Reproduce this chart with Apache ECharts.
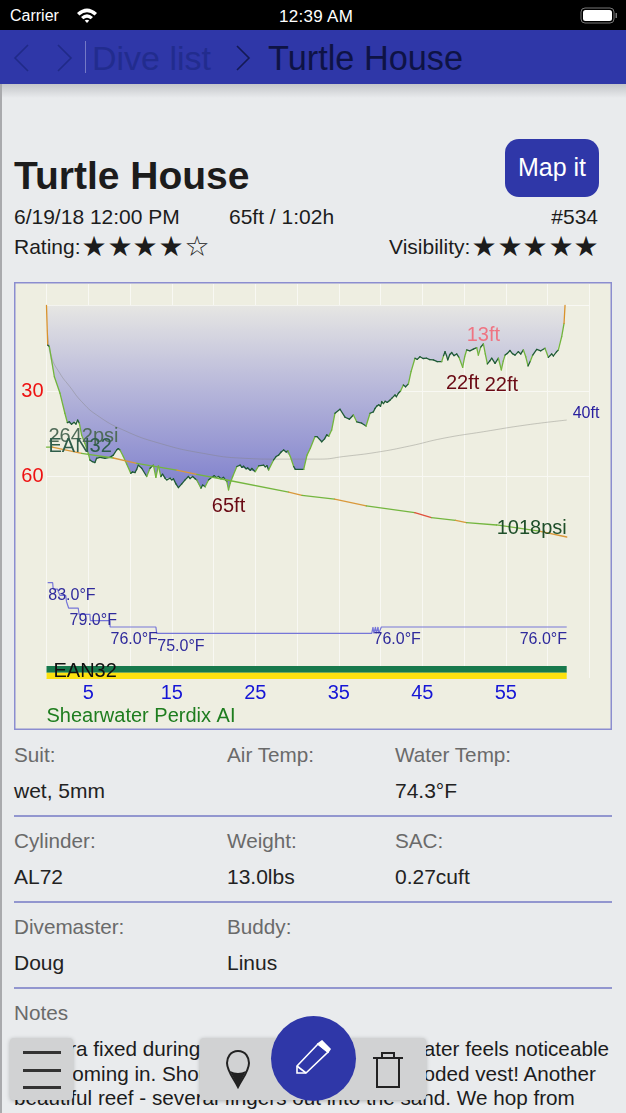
<!DOCTYPE html>
<html>
<head>
<meta charset="utf-8">
<title>Turtle House</title>
<script src="https://cdn.jsdelivr.net/npm/echarts@6/dist/echarts.min.js"></script>
<style>
  html, body { margin: 0; padding: 0; }
  body { width: 626px; height: 1113px; position: relative; overflow: hidden; background: #e9ebed; font-family: "Liberation Sans", sans-serif; color: #1c1c1c; }
  .t { position: absolute; line-height: 1; white-space: nowrap; transform: translateY(-50%); }
  .r { transform: translate(-100%, -50%); }
  .c { transform: translate(-50%, -50%); }
  .lab { font-size: 20.7px; color: #6a6a6a; }
  .val { font-size: 21px; color: #222; }
  .note { font-size: 20.7px; color: #1c1c1c; }
  .rule { position: absolute; left: 14px; width: 598px; height: 1.5px; background: #9296cf; }
  .box { position: absolute; background: #d1d2d3; box-shadow: 0 1px 4px rgba(0,0,0,.25); border-radius: 4px; }
  #panel { position: absolute; left: 14px; top: 282px; width: 598px; height: 448px; background: #eeeee1; box-shadow: inset 0 0 0 1.5px #8b8dd0; }
  #chart { width: 598px; height: 448px; }
  svg { position: absolute; }
</style>
</head>
<body>
<div style="position:absolute;left:0;top:0;width:626px;height:30px;background:#000"></div>
<span class="t" style="left:10px;top:16px;font-size:16px;color:#fff">Carrier</span>
<svg style="left:76px;top:7px" width="22" height="17" viewBox="0 0 22 17"><path d="M1 6 Q11 -3 21 6 L18.6 8.4 Q11 2 3.4 8.4 Z M5 10 Q11 4.5 17 10 L14.7 12.3 Q11 9.2 7.3 12.3 Z M8.7 13.6 Q11 11.8 13.3 13.6 L11 16 Z" fill="#fff"/></svg>
<span class="t c" style="left:316px;top:16px;font-size:17px;color:#fff;letter-spacing:.3px">12:39 AM</span>
<svg style="left:580px;top:7px" width="38" height="18" viewBox="0 0 38 18"><rect x="1" y="1" width="33" height="15" rx="4" fill="none" stroke="#777" stroke-width="1"/><rect x="3" y="3" width="29" height="11" rx="2.5" fill="#fff"/><rect x="35.5" y="6" width="1.5" height="5" fill="#777"/></svg>

<div style="position:absolute;left:0;top:30px;width:626px;height:54px;background:#2f37a8"></div>
<div style="position:absolute;left:0;top:84px;width:626px;height:14px;background:linear-gradient(#c3c5c9,#e9ebed)"></div>
<div style="position:absolute;left:0;top:84px;width:2px;height:1029px;background:#a9aaad"></div>
<svg style="left:10px;top:40px" width="70" height="36" viewBox="0 0 70 36" fill="none" stroke="#202a88" stroke-width="1.6"><path d="M18 5 L5 18 L18 31"/><path d="M48 5 L61 18 L48 31"/></svg>
<div style="position:absolute;left:85px;top:41px;width:1px;height:32px;background:#7479c6"></div>
<span class="t" style="left:92px;top:58px;font-size:34px;color:#222c8e">Dive list</span>
<svg style="left:234px;top:44px" width="20" height="28" viewBox="0 0 20 28" fill="none" stroke="#141a55" stroke-width="1.6"><path d="M3 2 L15 14 L3 26"/></svg>
<span class="t" style="left:268px;top:58px;font-size:34.3px;color:#0e1345">Turtle House</span>

<span class="t" style="left:14px;top:175px;font-size:39px;font-weight:bold">Turtle House</span>
<div style="position:absolute;left:505px;top:139px;width:94px;height:58px;border-radius:14px;background:#2f37a8"></div>
<span class="t c" style="left:552px;top:167px;font-size:25px;color:#fff">Map it</span>
<span class="t" style="left:14px;top:216px;font-size:21px">6/19/18 12:00 PM</span>
<span class="t" style="left:229px;top:216px;font-size:21px">65ft / 1:02h</span>
<span class="t r" style="left:598px;top:216px;font-size:21px">#534</span>
<span class="t" style="left:14px;top:246px;font-size:21px">Rating:</span>
<span class="t" style="left:389px;top:246px;font-size:21px">Visibility:</span>
<div id="stars"></div>

<div id="panel"><div id="chart"></div></div>

<span class="t lab" style="left:14px;top:755px">Suit:</span>
<span class="t lab" style="left:227px;top:755px">Air Temp:</span>
<span class="t lab" style="left:395px;top:755px">Water Temp:</span>
<span class="t val" style="left:14px;top:790px">wet, 5mm</span>
<span class="t val" style="left:395px;top:790px">74.3°F</span>
<div class="rule" style="top:815px"></div>
<span class="t lab" style="left:14px;top:841px">Cylinder:</span>
<span class="t lab" style="left:227px;top:841px">Weight:</span>
<span class="t lab" style="left:395px;top:841px">SAC:</span>
<span class="t val" style="left:14px;top:876px">AL72</span>
<span class="t val" style="left:227px;top:876px">13.0lbs</span>
<span class="t val" style="left:395px;top:876px">0.27cuft</span>
<div class="rule" style="top:901px"></div>
<span class="t lab" style="left:14px;top:927px">Divemaster:</span>
<span class="t lab" style="left:227px;top:927px">Buddy:</span>
<span class="t val" style="left:14px;top:962px">Doug</span>
<span class="t val" style="left:227px;top:962px">Linus</span>
<div class="rule" style="top:987px"></div>
<span class="t lab" style="left:14px;top:1013px">Notes</span>
<span class="t note" style="left:14px;top:1049px">Camera fixed during</span>
<span class="t note r" style="left:609px;top:1049px">water feels noticeable</span>
<span class="t note" style="left:62px;top:1074px">coming in. Should</span>
<span class="t note r" style="left:596px;top:1074px">hooded vest! Another</span>
<span class="t note" style="left:14px;top:1098px">beautiful reef - several fingers out into the sand. We hop from</span>

<div class="box" style="left:10px;top:1038px;width:63px;height:62px"></div>
<div style="position:absolute;left:23px;top:1051px;width:38px;height:2.5px;background:#333"></div>
<div style="position:absolute;left:23px;top:1069px;width:38px;height:2.5px;background:#333"></div>
<div style="position:absolute;left:23px;top:1086px;width:38px;height:2.5px;background:#333"></div>
<div class="box" style="left:200px;top:1038px;width:226px;height:62px"></div>
<svg style="left:224px;top:1049px" width="28" height="40" viewBox="0 0 28 40"><path d="M14 2 C6 2 3 9 3 14 C3 22 10 30 14 38 C18 30 25 22 25 14 C25 9 22 2 14 2 Z" fill="none" stroke="#222" stroke-width="2"/><path d="M6 22 Q14 26 22 22 L14 38 Z" fill="#222"/></svg>
<div style="position:absolute;left:271px;top:1016px;width:85px;height:85px;border-radius:50%;background:#2f37a8"></div>
<svg style="left:293px;top:1040px" width="40" height="36" viewBox="0 0 40 36" fill="none" stroke="#fff" stroke-width="1.6"><path d="M4 26 L25 4 L35 12 L13 33 L4 33 Z"/><path d="M25 4 L29 1 L37 9 L35 12 Z" fill="#fff"/><path d="M4 26 L13 33" /></svg>
<svg style="left:372px;top:1051px" width="32" height="38" viewBox="0 0 32 38" fill="none" stroke="#222" stroke-width="2"><path d="M1 7 L31 7"/><path d="M10 7 L10 2 L22 2 L22 7"/><path d="M5 7 L5 36 L27 36 L27 7"/></svg>

<script>
// minutes and feet
const profileTime = [0, 0.14, 0.34, 0.94, 1.62, 2.2, 2.5, 2.73, 3.0, 3.3, 3.53, 3.73, 3.93, 4.2, 4.6, 5.0, 5.2, 5.5, 5.8, 6.0, 6.4, 7.0, 7.6, 8.0, 8.4, 8.6, 8.8, 9.2, 9.6, 10.1, 10.3, 10.6, 10.8, 11, 11.4, 12, 12.4, 12.8, 13.1, 13.4, 13.7, 13.9, 14.2, 14.4, 14.8, 15, 15.2, 15.5, 15.8, 16.2, 16.6, 17, 17.2, 17.5, 17.8, 18, 18.5, 18.7, 19, 19.4, 19.8, 20.1, 20.3, 20.6, 20.9, 21.2, 21.6, 21.8, 22, 22.3, 22.8, 23.2, 23.4, 23.6, 23.9, 24.1, 24.4, 24.6, 25, 25.4, 26, 26.2, 26.4, 26.6, 27.2, 27.5, 27.8, 28.1, 28.4, 28.7, 28.9, 29.2, 29.6, 29.8, 30.8, 31.2, 31.6, 32.16, 32.4, 32.96, 33.3, 33.56, 33.8, 34.15, 34.55, 35.15, 35.75, 36.27, 36.75, 37.15, 37.75, 38.27, 38.75, 39.15, 39.35, 39.55, 39.8, 40, 40.15, 40.35, 40.55, 40.8, 41.14, 41.4, 41.74, 41.9, 42.14, 42.4, 42.74, 43, 43.34, 43.66, 44.13, 44.4, 44.73, 45.1, 45.53, 45.9, 46.33, 46.8, 47.33, 47.55, 47.73, 47.9, 48.05, 48.3, 48.53, 48.8, 49.12, 49.4, 49.84, 50.08, 50.32, 50.7, 51.12, 51.52, 51.72, 52, 52.32, 52.55, 52.8, 53.1, 53.32, 53.72, 54.12, 54.47, 54.7, 54.92, 55.2, 55.51, 55.8, 56.11, 56.51, 56.8, 57.11, 57.4, 57.67, 57.95, 58.23, 58.71, 59.2, 59.7, 60.1, 60.5, 60.7, 61.1, 61.3, 61.7, 61.98, 62.1];
const profileDepth = [0, 13.9, 14.4, 25, 30.8, 37.8, 41.1, 40.8, 41.7, 41, 41.6, 40.2, 41.3, 45.4, 48.4, 51.9, 54.2, 54.8, 55.1, 53.6, 53.3, 53.6, 53.3, 52.5, 50.7, 50.2, 50.7, 53, 55.6, 58.9, 58.4, 58.6, 57.5, 56, 57.1, 60, 57.1, 56, 60.3, 56.3, 60, 59.2, 60.6, 61.2, 60.6, 61.2, 60.8, 62.6, 63.9, 62.6, 61.2, 60, 60.7, 60, 60.8, 61.2, 64.1, 63, 63.6, 61.2, 60.3, 59.7, 60.3, 60, 60.8, 60.3, 61.8, 64.7, 62.4, 60, 56.5, 56, 56.8, 56.4, 57.3, 57, 57.8, 57.2, 58.3, 56.3, 56, 56.6, 56.2, 57.7, 54.2, 53, 52.5, 51.4, 50.7, 51.4, 51, 53, 56.5, 57.5, 57.5, 52.5, 50.1, 46, 46, 47.8, 46.8, 45.4, 45.9, 43.7, 37.8, 36.4, 39.2, 39.9, 38.4, 40.8, 41.3, 42.3, 37.8, 37.3, 36.1, 35.3, 34.8, 35.4, 33.7, 34.4, 33.6, 34, 33.2, 32.4, 31.4, 32, 30.8, 30, 27.9, 28.5, 27.5, 23.2, 18.5, 18.9, 18, 18.6, 18.5, 19, 19.1, 19.7, 19.7, 17.6, 16.2, 17.5, 19.1, 17.2, 16.5, 17.6, 17, 18.2, 21.7, 18, 15.6, 15.9, 15.3, 14.8, 17.4, 14.6, 13.5, 17, 20.5, 19.4, 18.5, 20.3, 18.5, 22.6, 19.5, 17.4, 16.8, 15.8, 16.9, 17.4, 16.2, 17, 15.6, 18, 21.2, 19.5, 17.4, 15.4, 15.9, 15, 18.2, 17, 17.7, 16.2, 15.6, 10.9, 6.3, 0];

// running mean depth (thin grey curve)
const meanTime = [0.1, 0.6, 1.6, 2.8, 4.2, 6, 9.2, 13.6, 18.8, 23.6, 27.6, 32.8, 35.55, 39.54, 43.5, 47.5, 52.3, 57.5, 62.3];
const meanDepth = [8.6, 18, 23.8, 28.5, 33.7, 38.4, 43.7, 48.4, 51.9, 53.6, 53.9, 53.9, 53, 51.5, 49.3, 46.6, 44.3, 41.9, 40.2];

const psiTime = [0, 0.7, 4.2, 8, 10.8, 15.6, 18, 21.6, 29, 30.6, 34.5, 38.3, 44.1, 46.1, 49, 50.3, 53.9, 59, 62.3];
const psiValues = [2642, 2642, 2528, 2444, 2348, 2227, 2150, 2047, 1830, 1770, 1700, 1578, 1457, 1367, 1320, 1276, 1235, 1125, 1018];

const tempTime = [0.14, 0.74, 0.8, 1.3, 1.6, 2.3, 2.4, 2.6, 2.65, 3.8, 3.9, 5.2, 5.25, 7.6, 7.62, 13.1, 13.2, 38.95, 39.1, 39.2, 39.4, 39.5, 39.7, 39.8, 40.1, 62.3];
const tempValues = [83, 83, 82, 82, 81, 81, 80, 80, 79, 79, 78, 78, 77, 77, 76, 76, 75, 75, 76, 75, 76, 75, 76, 75, 76, 76];

const xTickLabels = [5, 15, 25, 35, 45, 55];
const depthTickLabels = [30, 60];
const gasEnd = 62.3;
const gasShares = [52, 48];
const gasName = 'EAN32';
const computerName = 'Shearwater Perdix AI';

// [minute, depth, text, position, distance]
const depthNotes = [
  [21.8, 64.7, '65ft', 'bottom', 7],
  [49.84, 21.7, '22ft', 'bottom', 6],
  [54.47, 22.6, '22ft', 'bottom', 6]
];
const shallowNote = [52.32, 13.5, '13ft'];
const meanNote = [62.3, 40.2, '40ft'];
const tempNotes = [[3.05, 83], [5.6, 79], [10.5, 76], [16.1, 75], [42, 76], [59.5, 76]];

const stars = [[94, 1], [120, 1], [145, 1], [171, 1], [197, 0], [484, 1], [510, 1], [535, 1], [561, 1], [586, 1]];
document.getElementById('stars').innerHTML = stars.map(s =>
  `<span class="t c" style="left:${s[0]}px;top:247px;font-size:28px;font-family:'DejaVu Sans'">${s[1] ? '★' : '☆'}</span>`).join('');

const font = '"Liberation Sans", sans-serif';
const pxMin = 8.35, left = 32.5;
const zip = (a, b) => a.map((v, i) => [v, b[i]]);
const pairs = (a, b) => a.slice(1).map((v, i) => [a[i], b[i], v, b[i + 1]]);

function hiddenX(i) {
  return { gridIndex: i, type: 'value', min: 0, max: 65, show: false };
}

function rateSegments(colorFor, width) {
  return function (params, api) {
    const a = api.coord([api.value(0), api.value(1)]);
    const b = api.coord([api.value(2), api.value(3)]);
    const delta = Math.abs(api.value(3) - api.value(1));
    const rate = delta / (api.value(2) - api.value(0));
    return {
      type: 'line',
      shape: { x1: a[0], y1: a[1], x2: b[0], y2: b[1] },
      style: { stroke: colorFor(rate, delta), lineWidth: width, lineCap: 'round' }
    };
  };
}

const depthColor = (r, d) => r > 30 && d > 3 ? '#d9922b' : r > 5 && d >= 2 ? '#72b53c' : '#1f5b36';
const psiColor = r => r > 40 ? '#e0503c' : r > 32 ? '#d9983a' : '#74b63f';

function note(x, y, text, color, position, distance, offset) {
  return {
    value: [x, y],
    label: { show: true, formatter: text, color: color, fontSize: 20, fontFamily: font, position: position, distance: distance, offset: offset || [0, 0] }
  };
}

const noteStyle = { opacity: 1 };

const chart = echarts.init(document.getElementById('chart'));
chart.setOption({
  animation: false,
  title: {
    text: computerName, left: left, top: 424, padding: 0,
    textStyle: { color: '#1e7d1e', fontSize: 20, fontWeight: 'normal', fontFamily: font }
  },
  grid: [
    { left: left, width: 65 * pxMin, top: 2, height: 394 },          // minute lines and labels
    { left: left, width: 65 * pxMin, top: 23.5, height: 70 * 2.85 }, // depth
    { left: left, width: 65 * pxMin, top: 256.4, height: 126.6 },    // temperature
    { left: left, width: 65 * pxMin, top: 145.2, height: 166.2 },    // tank pressure
    { left: left, width: 65 * pxMin, top: 384, height: 13 }          // gas band
  ],
  xAxis: [
    {
      gridIndex: 0, type: 'value', min: 0, max: 65, interval: 5,
      axisLine: { show: false }, axisTick: { show: false },
      splitLine: { show: true, lineStyle: { color: '#f8f8f3', width: 1 } },
      axisLabel: {
        color: '#1515d6', fontSize: 20, fontFamily: font, margin: 5,
        formatter: v => xTickLabels.includes(v) ? String(v) : ''
      }
    },
    hiddenX(1), hiddenX(2), hiddenX(3), hiddenX(4)
  ],
  yAxis: [
    { gridIndex: 0, type: 'value', show: false },
    {
      gridIndex: 1, type: 'value', inverse: true, min: 0, max: 70, interval: 30,
      axisLine: { show: false }, axisTick: { show: false },
      splitLine: { show: true, showMaxLine: false, lineStyle: { color: '#f8f8f3', width: 1 } },
      axisLabel: {
        color: '#ee1111', fontSize: 20, fontFamily: font, margin: 3,
        formatter: v => depthTickLabels.includes(v) ? String(v) : ''
      }
    },
    { gridIndex: 2, type: 'value', min: 70, max: 90, show: false },
    { gridIndex: 3, type: 'value', min: 0, max: 3000, show: false },
    { gridIndex: 4, type: 'value', inverse: true, min: 0, max: 100, show: false }
  ],
  series: [
    {
      type: 'line', xAxisIndex: 1, yAxisIndex: 1, z: 2, silent: true,
      data: zip(profileTime, profileDepth), showSymbol: false,
      lineStyle: { width: 0 },
      areaStyle: {
        origin: 'start', opacity: 1,
        color: new echarts.graphic.LinearGradient(0, 0, 0, 1, [
          { offset: 0, color: '#e6e6e3' }, { offset: 0.4, color: '#bcbcdb' }, { offset: 1, color: '#7f80cd' }
        ])
      }
    },
    {
      type: 'line', xAxisIndex: 1, yAxisIndex: 1, z: 3, silent: true,
      data: zip(meanTime, meanDepth), showSymbol: false, smooth: true,
      lineStyle: { color: 'rgba(130,130,125,.4)', width: 1 }
    },
    {
      type: 'custom', xAxisIndex: 1, yAxisIndex: 1, z: 4, silent: true, clip: false,
      data: pairs(profileTime, profileDepth), encode: { x: [0, 2], y: [1, 3] },
      renderItem: rateSegments(depthColor, 1.3)
    },
    {
      type: 'custom', xAxisIndex: 3, yAxisIndex: 3, z: 4, silent: true,
      data: pairs(psiTime, psiValues), encode: { x: [0, 2], y: [1, 3] },
      renderItem: rateSegments(psiColor, 1.3)
    },
    {
      type: 'line', xAxisIndex: 2, yAxisIndex: 2, z: 3, silent: true,
      data: zip(tempTime, tempValues), showSymbol: false,
      lineStyle: { color: '#7676d8', width: 1.2 }
    },
    {
      type: 'custom', xAxisIndex: 4, yAxisIndex: 4, z: 3, silent: true,
      data: [[0, gasEnd, 0, gasShares[0], '#17794c'], [0, gasEnd, gasShares[0], 100, '#fbe10f']],
      encode: { x: [0, 1], y: [2, 3] },
      renderItem: function (params, api) {
        const a = api.coord([api.value(0), api.value(2)]);
        const b = api.coord([api.value(1), api.value(3)]);
        return { type: 'rect', shape: { x: a[0], y: a[1], width: b[0] - a[0], height: b[1] - a[1] }, style: { fill: api.value(4) } };
      }
    },
    {
      type: 'scatter', xAxisIndex: 1, yAxisIndex: 1, z: 6, silent: true, symbolSize: 0, itemStyle: noteStyle,
      data: depthNotes.map(n => note(n[0], n[1], n[2], '#6a0a14', n[3], n[4]))
        .concat([note(shallowNote[0], shallowNote[1], shallowNote[2], '#ef7482', 'top', -2)])
        .concat([{ value: meanNote, label: { show: true, formatter: meanNote[2], color: '#2a209e', fontSize: 16, fontFamily: font, position: 'right', distance: 6, offset: [0, -6] } }])
    },
    {
      type: 'scatter', xAxisIndex: 3, yAxisIndex: 3, z: 6, silent: true, symbolSize: 0, itemStyle: noteStyle,
      data: [
        note(psiTime[0], psiValues[0], psiValues[0] + 'psi', '#4f6b58', 'right', 2, [0, -11]),
        note(psiTime[0], psiValues[0], gasName, '#2f5d4a', 'right', 2, [0, -1]),
        note(psiTime[psiTime.length - 1], psiValues[psiValues.length - 1], psiValues[psiValues.length - 1] + 'psi', '#1f4f2a', 'left', 0, [0, -9])
      ]
    },
    {
      type: 'scatter', xAxisIndex: 2, yAxisIndex: 2, z: 6, silent: true, symbolSize: 0, itemStyle: noteStyle,
      data: tempNotes.map(n => ({
        value: n,
        label: { show: true, formatter: n[1].toFixed(1) + '°F', color: '#2f2a9c', fontSize: 16, fontFamily: font, position: 'bottom', distance: 5 }
      }))
    },
    {
      type: 'scatter', xAxisIndex: 4, yAxisIndex: 4, z: 6, silent: true, symbolSize: 0, itemStyle: noteStyle,
      data: [note(0, gasShares[0] * 0.8, gasName, '#111', 'right', 7)]
    }
  ]
});
</script>
</body>
</html>
